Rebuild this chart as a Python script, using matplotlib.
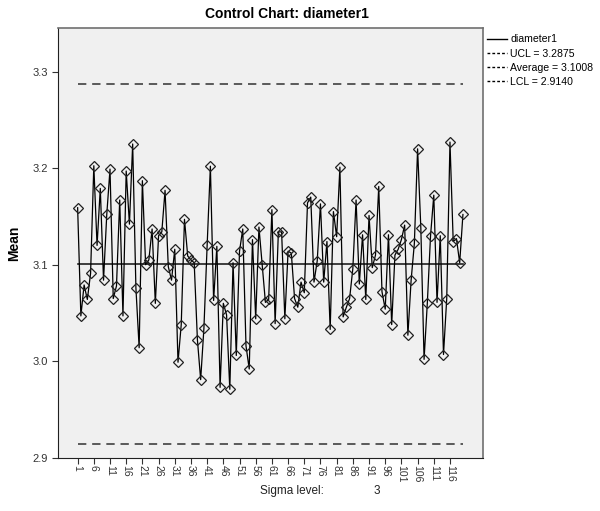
import matplotlib
matplotlib.use("Agg")
import matplotlib.pyplot as plt
from matplotlib.lines import Line2D

plt.rcParams['font.family'] = ['Liberation Sans', 'DejaVu Sans']

# subgroup means (subgroups 1..120)
means = [
    3.159, 3.047, 3.079, 3.064, 3.091, 3.2025, 3.120, 3.179, 3.084, 3.152,
    3.199, 3.065, 3.078, 3.167, 3.047, 3.197, 3.142, 3.225, 3.076, 3.014,
    3.187, 3.100, 3.105, 3.137, 3.060, 3.130, 3.134, 3.177, 3.098, 3.084,
    3.116, 2.999, 3.038, 3.147, 3.109, 3.105, 3.102, 3.022, 2.981, 3.034,
    3.120, 3.202, 3.063, 3.119, 2.973, 3.060, 3.048, 2.971, 3.102, 3.006,
    3.114, 3.137, 3.016, 2.992, 3.126, 3.044, 3.139, 3.100, 3.061, 3.064,
    3.157, 3.039, 3.134, 3.134, 3.044, 3.114, 3.112, 3.065, 3.056, 3.082,
    3.071, 3.164, 3.170, 3.082, 3.104, 3.163, 3.082, 3.124, 3.033, 3.155,
    3.129, 3.201, 3.046, 3.056, 3.065, 3.096, 3.167, 3.080, 3.131, 3.064,
    3.151, 3.097, 3.110, 3.181, 3.072, 3.054, 3.131, 3.038, 3.110, 3.116,
    3.126, 3.141, 3.027, 3.084, 3.122, 3.220, 3.138, 3.002, 3.060, 3.130,
    3.172, 3.061, 3.130, 3.007, 3.065, 3.227, 3.124, 3.127, 3.102, 3.152,
]
subgroups = list(range(1, len(means) + 1))
ucl = 3.2875
center = 3.1008
lcl = 2.9140
sigma_level = 3

fig = plt.figure(figsize=(6.0, 5.11), dpi=100)
ax = fig.add_axes([0.097, 0.104, 0.708, 0.841])
ax.set_facecolor('#f0f0f0')

ax.plot(subgroups, means, color='black', linewidth=0.9, marker='D',
        markersize=5.5, markerfacecolor='none', markeredgecolor='#202020',
        markeredgewidth=0.9, zorder=3)
ax.plot([subgroups[0], subgroups[-1]], [center, center], color='#202020', linewidth=1.2, zorder=2)
ax.plot([subgroups[0], subgroups[-1]], [ucl, ucl], color='#404040', linewidth=1.2,
        dashes=(5, 3.5), zorder=2)
ax.plot([subgroups[0], subgroups[-1]], [lcl, lcl], color='#404040', linewidth=1.2,
        dashes=(5, 3.5), zorder=2)

ax.set_xlim(-5.0, 126.2)
ax.set_ylim(2.9, 3.345)
ax.set_yticks([2.9, 3.0, 3.1, 3.2, 3.3])
ax.set_yticklabels(['2.9', '3.0', '3.1', '3.2', '3.3'], fontsize=8, color='#333333')
xt = list(range(1, 117, 5))
ax.set_xticks(xt)
ax.set_xticklabels([str(v) for v in xt], rotation=-90, fontsize=7.5, color='#333333')
ax.tick_params(axis='both', length=4, width=0.8, color='#333333')
ax.tick_params(axis='x', pad=1)

for s in ['left', 'bottom']:
    ax.spines[s].set_color('#202020')
for s in ['top', 'right']:
    ax.spines[s].set_color('#707070')
    ax.spines[s].set_linewidth(1.2)

ax.set_ylabel('Mean', fontsize=10, fontweight='bold', labelpad=8)
fig.text(0.478, 0.972, 'Control Chart: diameter1', fontsize=10, fontweight='bold',
         ha='center', va='center')
fig.text(0.433, 0.04, 'Sigma level:', fontsize=8.5, ha='left', va='center', color='#222222')
fig.text(0.622, 0.04, str(sigma_level), fontsize=8.5, ha='left', va='center', color='#222222')

handles = [
    Line2D([], [], color='black', linewidth=1),
    Line2D([], [], color='black', linewidth=1, dashes=(2, 1.5)),
    Line2D([], [], color='black', linewidth=1, dashes=(2, 1.5)),
    Line2D([], [], color='black', linewidth=1, dashes=(2, 1.5)),
]
labels = ['diameter1', 'UCL = %.4f' % ucl, 'Average = %.4f' % center, 'LCL = %.4f' % lcl]
fig.legend(handles, labels, loc='upper left', bbox_to_anchor=(0.808, 0.937),
           frameon=False, fontsize=7.6, handlelength=1.9, handletextpad=0.3,
           labelspacing=0.4, borderaxespad=0, borderpad=0.2)

fig.savefig('out.png', dpi=100)
